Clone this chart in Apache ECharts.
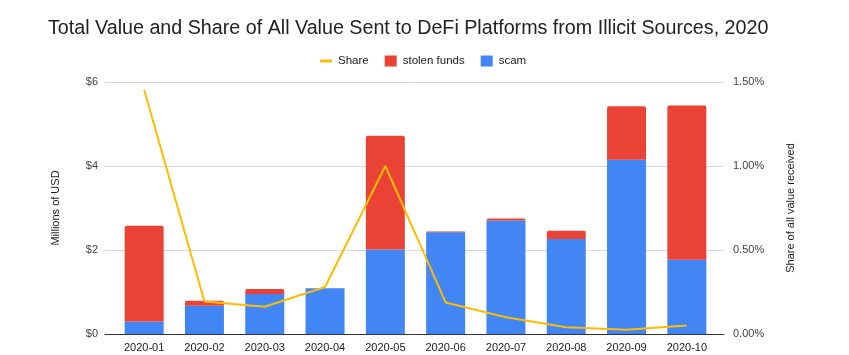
<!DOCTYPE html>
<html>
<head>
<meta charset="utf-8">
<script src="https://cdn.jsdelivr.net/npm/echarts@6/dist/echarts.min.js"></script>
<style>html,body{margin:0;padding:0;background:#fff}#c{width:849px;height:355px}</style>
</head>
<body>
<div id="c"></div>
<script>
var categories = ['2020-01','2020-02','2020-03','2020-04','2020-05','2020-06','2020-07','2020-08','2020-09','2020-10'];
var scam = [0.30, 0.67, 0.95, 1.09, 2.01, 2.42, 2.70, 2.26, 4.15, 1.77];
var stolenFunds = [2.28, 0.12, 0.12, 0, 2.71, 0.02, 0.05, 0.20, 1.27, 3.67];
var share = [1.454, 0.194, 0.162, 0.28, 1.0, 0.188, 0.10, 0.04, 0.026, 0.05];
var leftTicks = [0, 2, 4, 6];
var rightTicks = [0, 0.5, 1.0, 1.5];

var FONT = 'Liberation Sans, Arial, sans-serif';
var chart = echarts.init(document.getElementById('c'));
chart.setOption({
  animation: false,
  textStyle: {fontFamily: FONT},
  title: {
    text: 'Total Value and Share of All Value Sent to DeFi Platforms from Illicit Sources, 2020',
    left: 43, top: 14,
    textStyle: {fontFamily: FONT, fontSize: 19.7, fontWeight: 'normal', color: '#222'}
  },
  legend: {
    top: 50, left: 315,
    itemGap: 16, itemWidth: 12, itemHeight: 11,
    textStyle: {fontFamily: FONT, fontSize: 11.5, color: '#222', padding: [0, 0, 0, 1]},
    data: [
      {name: 'Share', icon: 'path://M0,0 L0,0 M0,11 L0,11 M0,4 L12,4 L12,7 L0,7 Z', itemStyle: {color: '#FBBC04'}},
      {name: 'stolen funds', icon: 'rect'},
      {name: 'scam', icon: 'rect'}
    ]
  },
  grid: [
    {left: 105, right: 125, top: 82, bottom: 21},
    {left: 114, right: 132, top: 82, bottom: 21}
  ],
  xAxis: [
    {gridIndex: 0, type: 'value', min: 0, max: 1, axisLine: {show: true, onZero: false, lineStyle: {color: '#333', width: 1}},
     axisTick: {show: false}, axisLabel: {show: false}, splitLine: {show: false}},
    {gridIndex: 1, type: 'category', data: categories, boundaryGap: true,
     axisLine: {show: false}, axisTick: {show: false},
     axisLabel: {fontFamily: FONT, fontSize: 11, color: '#222', margin: 8, interval: 0}}
  ],
  yAxis: [
    {gridIndex: 0, type: 'value', position: 'left', min: leftTicks[0], max: leftTicks[leftTicks.length-1], interval: 2,
     name: 'Millions of USD', nameLocation: 'middle', nameGap: 44,
     nameTextStyle: {fontFamily: FONT, fontSize: 11, color: '#222'},
     axisLine: {show: false}, axisTick: {show: false},
     axisLabel: {fontFamily: FONT, fontSize: 11, color: '#444', margin: 7, formatter: function(v){return '$' + v;}},
     splitLine: {show: true, lineStyle: {color: '#d9d9d9', width: 1}}},
    {gridIndex: 0, type: 'value', position: 'right', min: rightTicks[0], max: rightTicks[rightTicks.length-1], interval: 0.5,
     name: 'Share of all value received', nameLocation: 'middle', nameGap: 61,
     nameTextStyle: {fontFamily: FONT, fontSize: 11, color: '#222'},
     axisLine: {show: false}, axisTick: {show: false},
     axisLabel: {fontFamily: FONT, fontSize: 11, color: '#444', margin: 9, formatter: function(v){return v.toFixed(2) + '%';}},
     splitLine: {show: false}},
    {gridIndex: 1, type: 'value', min: 0, max: 6, interval: 2, show: false},
    {gridIndex: 1, type: 'value', min: 0, max: 1.5, interval: 0.5, show: false}
  ],
  series: [
    {name: 'scam', type: 'bar', stack: 'total', xAxisIndex: 1, yAxisIndex: 2, data: scam,
     barWidth: 39, itemStyle: {color: '#4285F4'}, z: 2},
    {name: 'stolen funds', type: 'bar', stack: 'total', xAxisIndex: 1, yAxisIndex: 2, data: stolenFunds,
     barWidth: 39, itemStyle: {color: '#EA4335', borderRadius: [2, 2, 0, 0]}, z: 2},
    {name: 'Share', type: 'line', xAxisIndex: 1, yAxisIndex: 3, data: share,
     showSymbol: false, symbol: 'none', lineStyle: {color: '#FBBC04', width: 2}, itemStyle: {color: '#FBBC04'}, z: 5}
  ]
});
</script>
</body>
</html>
